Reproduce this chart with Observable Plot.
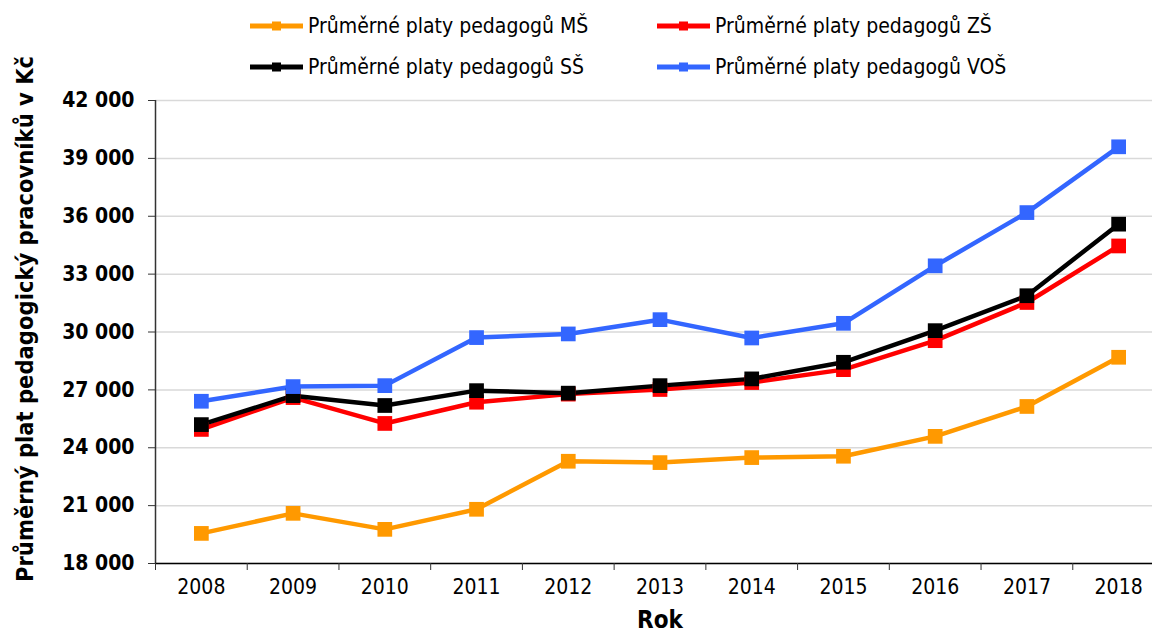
<!DOCTYPE html>
<html><head><meta charset="utf-8">
<script src="https://cdn.jsdelivr.net/npm/d3@7"></script>
<script src="https://cdn.jsdelivr.net/npm/@observablehq/plot@0.6"></script>
<style>
html,body{margin:0;padding:0;background:#fff;overflow:hidden;width:1152px;height:637px;}
#wrap{position:relative;width:1152px;height:637px;overflow:hidden;}
#chart{position:absolute;left:0;top:0;}
.lg{position:absolute;display:flex;align-items:center;height:30px;font-family:"DejaVu Sans Condensed","DejaVu Sans",sans-serif;font-stretch:condensed;font-size:21px;color:#000;white-space:nowrap;}
.lg svg{margin-right:5px;}
</style></head><body>
<div id="wrap"><div id="chart"></div><div id="legend"></div></div>
<script>
const years = [2008, 2009, 2010, 2011, 2012, 2013, 2014, 2015, 2016, 2017, 2018];
const platyMS  = [19560, 20600, 19770, 20810, 23300, 23230, 23490, 23560, 24590, 26140, 28690];
const platyZS  = [24950, 26600, 25260, 26360, 26780, 27020, 27380, 28050, 29550, 31530, 34460];
const platySS  = [25200, 26700, 26190, 26960, 26830, 27220, 27570, 28430, 30070, 31880, 35590];
const platyVOS = [26410, 27170, 27220, 29710, 29900, 30640, 29690, 30450, 33430, 36190, 39600];
const seriesNames = ["Průměrné platy pedagogů MŠ", "Průměrné platy pedagogů ZŠ", "Průměrné platy pedagogů SŠ", "Průměrné platy pedagogů VOŠ"];
const seriesColors = ["#FF9900", "#FF0000", "#000000", "#3366FF"];
const yTicks = [18000, 21000, 24000, 27000, 30000, 33000, 36000, 39000, 42000];
const yTitle = "Průměrný plat pedagogický pracovníků v Kč";
const xTitle = "Rok";

const seriesValues = [platyMS, platyZS, platySS, platyVOS];
const rows = [];
seriesValues.forEach((vals, i) => vals.forEach((v, j) => rows.push({year: years[j], value: v, series: seriesNames[i]})));
const xDomain = [years[0] - 0.5, years[years.length - 1] + 0.5];
const boundaries = years.map(y => y - 0.5).concat([years[years.length - 1] + 0.5]);
const fmt = d3.formatLocale({thousands: " ", grouping: [3], decimal: ","}).format(",d");
const FONT = '"DejaVu Sans Condensed","DejaVu Sans",sans-serif';

const chart = Plot.plot({
  width: 1164, height: 637,
  marginLeft: 155, marginRight: 0, marginTop: 100, marginBottom: 74,
  style: {fontFamily: FONT, maxWidth: "none", overflow: "visible", background: "#fff", color: "#000"},
  x: {type: "linear", domain: xDomain},
  y: {domain: [yTicks[0], yTicks[yTicks.length - 1]]},
  color: {domain: seriesNames, range: seriesColors},
  marks: [
    Plot.gridY(yTicks, {stroke: "#d9d9d9", strokeOpacity: 1, strokeWidth: 1.5}),
    Plot.ruleX([xDomain[0]], {stroke: "#333", strokeWidth: 1.5}),
    Plot.ruleY([yTicks[0]], {stroke: "#000", strokeWidth: 1.5}),
    Plot.axisY(yTicks, {anchor: "left", tickSize: 7, tickPadding: 14, tickFormat: fmt, label: null, fontSize: 21, fontWeight: "bold", stroke: "#333"}),
    Plot.axisX(boundaries, {anchor: "bottom", tickSize: 7, tickFormat: () => "", label: null, stroke: "#333"}),
    Plot.axisX(years, {anchor: "bottom", tickSize: 0, tickPadding: 16, tickFormat: d => String(d), label: null, fontSize: 21}),
    Plot.line(rows, {x: "year", y: "value", z: "series", stroke: "series", strokeWidth: 4.5, strokeLinejoin: "round"}),
    Plot.dot(rows, {x: "year", y: "value", fill: "series", symbol: "square", r: 8.3, stroke: "none"}),
    Plot.text([xTitle], {frameAnchor: "bottom", dy: 64, text: d => d, fontSize: 24, fontWeight: "bold"}),
    Plot.text([yTitle], {frameAnchor: "left", textAnchor: "middle", dx: -130, dy: -13, rotate: -90, text: d => d, fontSize: 23.5, fontWeight: "bold"})
  ]
});
document.getElementById("chart").appendChild(chart);

const legendPos = [[250, 11], [657, 11], [250, 52], [657, 52]];
const legend = document.getElementById("legend");
seriesNames.forEach((name, i) => {
  const div = document.createElement("div");
  div.className = "lg";
  div.style.left = legendPos[i][0] + "px";
  div.style.top = legendPos[i][1] + "px";
  const c = seriesColors[i];
  div.innerHTML = `<svg width="53" height="14"><line x1="0" y1="7" x2="53" y2="7" stroke="${c}" stroke-width="5"/><rect x="22" y="2.5" width="9" height="9" fill="${c}"/></svg><span>${name}</span>`;
  legend.appendChild(div);
});
</script>
</body></html>
